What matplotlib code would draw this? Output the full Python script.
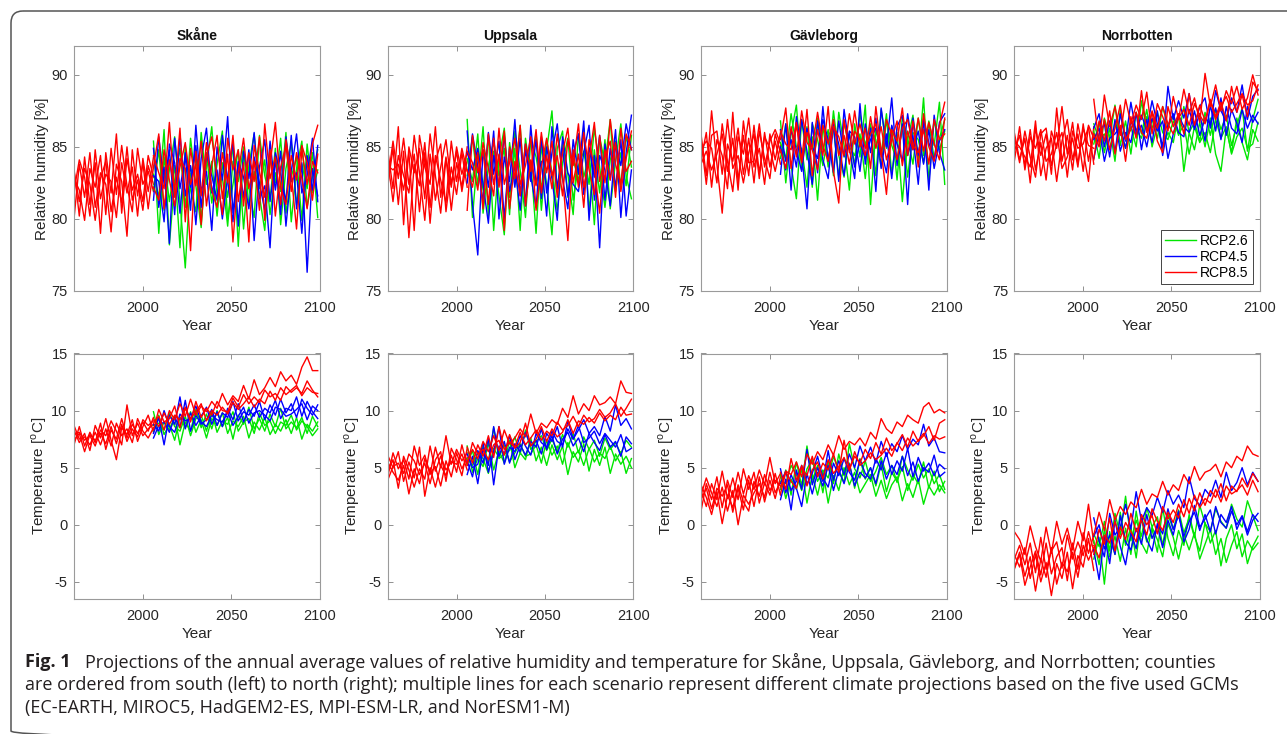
import numpy as np
import matplotlib
matplotlib.use('Agg')
import matplotlib.pyplot as plt
from matplotlib.patches import FancyBboxPatch
from matplotlib.lines import Line2D

plt.rcParams['font.family'] = ['Liberation Sans', 'DejaVu Sans']
plt.rcParams['mathtext.fontset'] = 'custom'
plt.rcParams['mathtext.rm'] = 'Liberation Sans'
plt.rcParams['axes.unicode_minus'] = False

# years (historical 1961-2006, scenarios 2006-2099), read every third year
HIST_YEARS = np.arange(1961, 2007, 3)
FUT_YEARS = np.arange(2006, 2100, 3)

COUNTIES = ['Skåne', 'Uppsala', 'Gävleborg', 'Norrbotten']
SCENARIOS = ['RCP2.6', 'RCP4.5', 'RCP8.5']
SCEN_COLORS = ['#00e600', '#0000ff', '#ff0000']

# ---------------- relative humidity [%] ----------------
SKANE_RH_HIST = [
    [83.5, 80.2, 84.3, 81.0, 83.9, 79.0, 84.6, 81.8, 85.9, 80.4, 84.2, 82.0, 83.1, 81.2, 84.4, 82.9],
    [80.0, 83.8, 81.5, 84.6, 80.8, 83.2, 82.4, 79.1, 83.8, 82.6, 78.8, 84.8, 81.6, 83.9, 80.7, 83.6],
    [82.8, 82.0, 79.9, 83.5, 82.2, 84.4, 80.3, 84.9, 81.7, 85.1, 82.3, 80.5, 84.9, 82.4, 83.3, 81.9],
    [81.9, 84.1, 82.9, 80.2, 84.8, 81.4, 83.1, 82.6, 80.1, 83.9, 81.8, 83.6, 80.2, 84.2, 81.9, 84.3],
    [83.3, 81.2, 83.5, 82.4, 79.9, 82.8, 84.0, 80.5, 82.9, 81.1, 85.0, 81.3, 82.7, 80.6, 83.7, 82.4],
]
SKANE_RH_26 = [
    [85.4, 79.0, 84.3, 81.2, 83.7, 78.0, 85.1, 82.0, 80.5, 86.0, 82.4, 84.0, 80.2, 83.9, 81.5, 85.2, 78.1, 84.6, 82.2, 80.1, 85.8, 83.0, 81.4, 84.9, 79.6, 83.5, 85.3, 81.0, 83.8, 82.1, 84.6, 80.1],
    [82.0, 84.8, 80.6, 83.4, 85.7, 81.2, 76.6, 83.1, 84.5, 80.0, 83.6, 86.4, 81.7, 82.9, 79.5, 84.0, 82.6, 85.0, 80.9, 83.3, 81.6, 79.2, 84.2, 82.5, 85.6, 80.4, 82.9, 84.3, 79.9, 85.2, 81.8, 83.4],
    [83.1, 81.5, 86.2, 78.2, 82.7, 84.9, 80.8, 85.6, 82.3, 79.4, 84.6, 81.1, 83.8, 86.1, 80.0, 82.4, 84.8, 79.3, 83.7, 85.9, 82.1, 84.1, 80.3, 83.2, 81.9, 86.0, 79.8, 83.5, 85.4, 80.8, 82.9, 84.8],
]
SKANE_RH_45 = [
    [84.9, 80.8, 83.6, 78.3, 85.6, 82.1, 84.3, 80.6, 86.5, 81.9, 83.3, 79.2, 85.0, 82.7, 87.1, 80.4, 83.9, 81.5, 84.8, 78.5, 83.6, 85.5, 81.2, 84.1, 80.3, 85.7, 82.6, 83.2, 79.0, 84.4, 82.0, 85.1],
    [81.3, 85.7, 82.4, 84.8, 80.3, 85.9, 81.6, 83.7, 79.6, 84.2, 86.3, 81.8, 83.4, 80.0, 82.9, 85.3, 79.5, 84.7, 82.8, 86.0, 81.4, 82.3, 78.0, 84.6, 83.1, 81.2, 85.8, 80.7, 83.9, 76.3, 83.5, 81.6],
    [83.0, 82.6, 79.8, 85.2, 83.9, 80.4, 84.6, 82.2, 85.1, 80.8, 84.5, 83.0, 81.3, 85.8, 82.6, 79.8, 84.0, 82.9, 80.7, 84.3, 82.5, 80.6, 85.4, 82.0, 84.7, 79.5, 83.3, 85.9, 81.8, 83.0, 85.6, 81.2],
]
SKANE_RH_85 = [
    [83.6, 85.9, 80.7, 84.1, 82.0, 86.3, 79.8, 84.9, 82.3, 85.4, 80.9, 83.7, 85.8, 81.4, 84.5, 78.4, 83.2, 85.6, 82.1, 84.0, 80.6, 86.6, 82.8, 84.3, 81.0, 85.5, 83.1, 79.3, 84.8, 82.4, 85.2, 86.5],
    [82.2, 81.3, 84.8, 82.7, 80.9, 84.2, 83.5, 77.8, 84.7, 81.6, 85.3, 82.0, 80.8, 84.6, 82.5, 85.8, 81.2, 83.9, 78.4, 85.1, 83.3, 81.5, 84.8, 80.2, 83.6, 85.1, 81.9, 84.6, 82.8, 80.7, 84.0, 83.2],
    [84.4, 83.2, 82.1, 86.7, 81.5, 83.6, 85.3, 82.4, 83.8, 79.6, 84.4, 85.7, 82.9, 80.3, 85.6, 83.4, 84.8, 80.9, 84.6, 82.6, 85.7, 79.9, 83.8, 86.7, 82.2, 81.0, 84.4, 82.7, 85.1, 83.9, 81.3, 84.5],
]

UPPSALA_RH_HIST = [
    [84.8, 82.1, 86.4, 79.6, 85.0, 83.2, 84.9, 81.4, 85.9, 83.0, 80.4, 84.2, 82.2, 85.0, 83.1, 84.6],
    [82.3, 84.9, 81.0, 84.7, 78.7, 83.8, 82.3, 85.3, 80.8, 84.4, 82.7, 81.1, 85.4, 82.6, 84.9, 83.3],
    [83.7, 83.4, 83.8, 82.0, 84.6, 79.2, 85.8, 83.6, 82.4, 86.4, 81.5, 84.3, 80.6, 83.9, 82.2, 85.0],
    [82.6, 85.4, 82.8, 85.6, 82.4, 84.5, 80.5, 84.6, 79.7, 84.0, 85.2, 80.5, 83.6, 81.7, 84.6, 82.2],
    [84.1, 81.2, 84.4, 83.0, 81.8, 85.8, 83.2, 79.9, 84.5, 81.3, 83.6, 85.5, 82.4, 84.7, 81.9, 84.1],
]
UPPSALA_RH_26 = [
    [86.9, 80.1, 84.6, 82.0, 85.8, 79.2, 84.2, 86.3, 81.5, 84.9, 79.2, 85.6, 83.0, 86.0, 80.6, 84.8, 87.5, 81.9, 85.2, 83.1, 80.3, 85.9, 82.9, 84.4, 79.6, 85.7, 83.8, 86.9, 81.9, 84.6, 82.3, 85.8],
    [83.0, 85.7, 82.3, 86.4, 80.2, 84.7, 81.6, 78.9, 85.3, 82.6, 86.5, 81.1, 84.0, 79.0, 85.1, 82.4, 78.9, 84.9, 86.1, 81.5, 84.2, 82.6, 86.3, 80.5, 84.8, 81.8, 85.5, 80.7, 84.0, 86.6, 83.0, 81.4],
    [84.2, 82.6, 85.9, 80.4, 83.7, 85.4, 83.0, 84.9, 80.3, 86.1, 83.4, 80.1, 85.5, 84.3, 82.1, 85.5, 83.2, 80.6, 83.9, 85.6, 81.3, 83.7, 84.7, 82.4, 86.3, 83.6, 80.8, 84.1, 85.4, 82.3, 85.8, 83.6],
]
UPPSALA_RH_45 = [
    [86.1, 81.0, 77.5, 84.8, 82.2, 86.1, 80.0, 84.3, 82.6, 86.9, 81.6, 85.2, 83.0, 80.8, 85.7, 81.8, 84.6, 86.6, 82.8, 80.7, 85.5, 83.1, 86.8, 79.9, 84.4, 78.0, 85.2, 82.7, 86.2, 80.1, 84.6, 87.2],
    [82.5, 85.9, 83.6, 81.2, 86.0, 83.1, 85.4, 80.0, 84.9, 82.2, 85.6, 80.9, 86.5, 82.4, 84.0, 80.2, 86.4, 82.1, 84.9, 81.6, 84.5, 85.9, 81.7, 85.0, 82.9, 85.8, 81.3, 84.9, 82.2, 85.5, 80.2, 83.4],
    [84.6, 83.4, 84.9, 82.4, 79.7, 84.4, 82.3, 85.8, 81.9, 83.7, 80.6, 84.8, 82.6, 85.5, 81.4, 85.0, 82.8, 79.9, 85.7, 83.2, 82.4, 81.9, 84.6, 86.5, 81.3, 84.4, 83.4, 80.9, 85.1, 83.7, 86.6, 84.8],
]
UPPSALA_RH_85 = [
    [80.6, 85.8, 83.2, 84.8, 81.0, 85.6, 82.2, 86.1, 80.7, 84.0, 81.6, 85.2, 83.3, 86.2, 81.8, 84.4, 82.1, 85.9, 83.0, 78.5, 84.8, 82.2, 86.0, 83.4, 81.7, 85.8, 82.5, 86.9, 83.8, 82.4, 85.9, 84.8],
    [83.4, 82.2, 84.6, 80.7, 85.9, 82.4, 84.5, 79.2, 85.0, 82.8, 86.5, 80.9, 84.1, 82.3, 86.0, 83.2, 85.4, 81.5, 84.6, 86.3, 82.5, 84.5, 80.8, 85.5, 83.5, 80.4, 84.8, 82.7, 85.3, 81.9, 84.2, 86.1],
    [84.7, 83.9, 82.0, 85.3, 83.5, 81.6, 86.3, 82.4, 83.9, 85.6, 82.4, 83.7, 85.7, 80.6, 83.6, 85.6, 83.0, 84.4, 81.6, 85.5, 83.7, 86.6, 82.2, 84.1, 86.7, 82.6, 84.3, 85.4, 81.5, 86.3, 83.3, 84.0],
]

GAVLEBORG_RH_HIST = [
    [85.9, 83.0, 87.5, 83.8, 80.4, 85.2, 84.0, 86.3, 83.1, 85.6, 82.5, 86.1, 84.2, 82.8, 85.9, 84.6],
    [84.1, 86.0, 82.2, 85.5, 84.4, 82.1, 87.4, 82.6, 85.8, 83.0, 86.5, 83.2, 85.7, 84.9, 83.3, 85.1],
    [84.8, 85.4, 84.9, 82.5, 86.6, 84.0, 81.9, 85.7, 84.5, 87.0, 83.6, 84.9, 82.4, 85.9, 84.1, 86.0],
    [85.5, 82.4, 85.8, 86.1, 83.1, 86.9, 83.5, 84.4, 82.5, 84.6, 85.9, 82.8, 86.0, 83.6, 85.4, 83.8],
    [83.8, 84.7, 83.4, 84.5, 85.9, 83.3, 85.6, 82.0, 86.8, 83.9, 84.0, 86.6, 83.6, 85.4, 86.2, 85.2],
]
GAVLEBORG_RH_26 = [
    [86.8, 82.5, 85.9, 87.9, 83.4, 86.4, 82.2, 87.0, 84.8, 86.2, 83.0, 87.4, 85.1, 82.0, 86.6, 84.3, 87.9, 81.0, 86.2, 84.5, 87.3, 83.1, 86.0, 81.2, 85.5, 87.2, 84.0, 88.4, 82.6, 86.9, 84.8, 86.1],
    [84.2, 86.6, 83.7, 81.4, 86.9, 84.1, 85.7, 81.3, 86.5, 83.6, 87.5, 84.4, 82.9, 86.0, 83.7, 87.3, 85.1, 86.6, 83.0, 87.6, 84.9, 86.4, 82.7, 87.1, 85.6, 83.8, 87.0, 84.4, 86.8, 85.1, 88.1, 82.4],
    [85.3, 84.2, 87.3, 85.0, 84.9, 82.2, 86.6, 85.5, 83.7, 85.8, 86.3, 82.9, 86.7, 85.0, 84.4, 85.9, 82.8, 86.4, 85.5, 83.6, 86.8, 85.1, 84.0, 86.5, 82.9, 86.0, 85.5, 83.9, 86.7, 84.2, 85.6, 86.9],
]
GAVLEBORG_RH_45 = [
    [83.1, 86.6, 82.0, 87.1, 84.6, 80.7, 86.7, 83.2, 87.8, 84.0, 86.5, 82.6, 87.6, 84.9, 82.8, 88.0, 83.8, 86.3, 81.9, 87.7, 85.0, 88.4, 83.7, 86.6, 81.0, 87.0, 84.4, 86.8, 82.0, 87.2, 84.6, 83.4],
    [86.2, 84.0, 85.5, 83.6, 86.9, 84.7, 82.4, 86.8, 84.1, 82.8, 86.6, 85.2, 83.0, 86.1, 85.7, 83.3, 86.6, 84.6, 87.0, 83.5, 85.9, 82.8, 86.4, 87.2, 84.4, 85.8, 82.4, 86.9, 85.3, 84.1, 86.7, 87.3],
    [85.0, 83.4, 86.2, 84.8, 83.3, 86.3, 85.0, 84.2, 86.9, 85.5, 83.2, 86.8, 84.3, 85.9, 83.6, 85.3, 84.2, 85.5, 86.3, 84.8, 83.2, 86.5, 85.2, 84.0, 87.3, 84.8, 86.1, 83.8, 86.2, 83.5, 85.4, 86.2],
]
GAVLEBORG_RH_85 = [
    [85.5, 87.7, 83.5, 86.6, 84.0, 87.6, 83.0, 86.2, 84.4, 87.8, 83.3, 81.1, 86.9, 84.6, 87.5, 85.0, 86.3, 83.5, 87.8, 84.7, 81.7, 86.2, 85.4, 87.7, 84.4, 86.8, 83.6, 87.3, 85.0, 84.0, 86.5, 88.1],
    [84.8, 83.5, 86.4, 84.3, 87.5, 85.3, 84.8, 83.4, 86.5, 85.2, 86.9, 84.4, 85.8, 83.8, 86.1, 85.5, 84.4, 87.1, 84.9, 86.4, 84.1, 85.5, 86.8, 83.7, 86.1, 84.8, 87.0, 84.7, 86.7, 85.2, 84.1, 87.0],
    [86.1, 85.2, 84.8, 86.7, 83.9, 86.0, 84.9, 87.4, 85.1, 84.0, 86.4, 85.7, 84.4, 87.3, 85.2, 86.6, 84.9, 85.9, 86.6, 84.3, 86.9, 85.8, 84.1, 86.3, 86.9, 85.1, 84.6, 86.2, 83.8, 86.9, 85.5, 85.9],
]

NORRBOTTEN_RH_HIST = [
    [86.0, 84.1, 85.6, 82.5, 86.3, 84.4, 85.9, 83.1, 87.7, 84.0, 85.8, 83.4, 86.6, 84.7, 82.6, 86.4],
    [84.7, 85.8, 83.7, 86.2, 83.4, 85.3, 82.7, 86.1, 84.9, 87.8, 84.5, 86.7, 83.8, 86.3, 85.1, 84.9],
    [85.4, 85.0, 84.3, 83.6, 86.8, 83.0, 84.9, 85.6, 82.6, 85.4, 86.9, 84.1, 85.9, 83.3, 86.5, 85.6],
    [84.0, 86.4, 83.4, 85.7, 84.9, 86.2, 84.0, 84.5, 86.0, 83.5, 84.3, 85.6, 83.6, 86.6, 84.0, 86.2],
    [85.7, 83.9, 86.1, 84.3, 82.9, 85.9, 86.3, 83.7, 85.2, 86.0, 82.9, 86.1, 84.9, 85.2, 86.4, 83.8],
]
NORRBOTTEN_RH_26 = [
    [86.1, 84.2, 87.0, 85.6, 87.9, 85.1, 86.8, 84.5, 87.4, 85.9, 87.6, 85.0, 86.5, 84.9, 86.0, 85.3, 87.3, 83.3, 86.0, 84.8, 86.7, 85.0, 87.0, 84.5, 83.3, 86.3, 84.6, 87.0, 85.3, 84.1, 86.2, 85.4],
    [85.2, 86.7, 84.6, 86.3, 84.0, 87.6, 85.5, 86.4, 85.0, 88.2, 86.1, 86.9, 85.6, 87.8, 86.4, 87.1, 85.8, 87.8, 86.0, 86.7, 85.4, 87.4, 85.8, 87.6, 86.2, 87.2, 85.1, 86.5, 87.7, 84.7, 86.9, 88.3],
    [86.6, 85.5, 85.9, 84.8, 86.7, 86.0, 84.9, 86.9, 86.2, 85.6, 87.1, 86.3, 87.4, 86.0, 85.5, 86.8, 85.9, 86.5, 84.5, 86.4, 85.3, 86.0, 84.6, 86.9, 85.6, 86.4, 84.5, 85.7, 86.3, 84.9, 85.2, 86.7],
]
NORRBOTTEN_RH_45 = [
    [86.3, 87.3, 85.0, 86.8, 84.6, 87.3, 85.4, 88.1, 86.0, 87.2, 86.2, 88.2, 86.6, 85.0, 89.2, 86.9, 88.2, 87.0, 88.7, 86.4, 87.8, 88.4, 86.3, 88.9, 87.5, 86.8, 88.4, 87.4, 89.3, 86.9, 88.5, 89.0],
    [84.2, 85.9, 86.6, 84.3, 86.9, 84.7, 86.0, 85.3, 87.4, 84.8, 86.9, 85.3, 87.5, 84.4, 86.5, 87.3, 86.0, 85.7, 87.6, 86.2, 87.3, 85.4, 87.9, 86.1, 88.4, 85.8, 87.6, 86.6, 85.3, 87.8, 86.7, 87.4],
    [85.5, 86.3, 84.0, 85.6, 85.9, 86.4, 84.9, 86.8, 85.8, 86.5, 85.0, 87.0, 86.1, 86.8, 84.2, 85.9, 87.2, 86.4, 86.0, 87.5, 85.8, 87.0, 86.6, 87.7, 85.5, 87.8, 86.3, 85.9, 87.6, 86.3, 87.2, 86.6],
]
NORRBOTTEN_RH_85 = [
    [88.3, 85.2, 88.6, 86.4, 87.8, 85.8, 88.3, 86.6, 87.9, 86.9, 88.8, 85.9, 88.0, 87.1, 86.1, 88.5, 86.9, 89.0, 87.3, 88.4, 86.7, 90.1, 87.8, 89.3, 87.5, 88.9, 88.0, 89.2, 87.6, 88.4, 90.0, 88.6],
    [84.1, 86.8, 85.4, 87.5, 84.5, 86.5, 84.0, 87.1, 85.6, 88.9, 86.0, 87.4, 85.4, 84.6, 87.8, 86.4, 87.3, 85.9, 88.7, 86.5, 87.9, 86.8, 88.3, 87.1, 88.1, 86.8, 89.2, 87.4, 88.6, 87.1, 89.5, 88.9],
    [85.9, 85.0, 86.9, 84.8, 86.3, 87.9, 85.5, 86.2, 87.4, 86.0, 85.6, 87.5, 86.3, 87.8, 86.6, 85.9, 87.0, 87.6, 86.5, 88.0, 87.2, 86.6, 88.2, 86.9, 87.8, 88.5, 87.4, 88.0, 88.7, 87.9, 88.2, 89.3],
]

# ---------------- temperature [oC] ----------------
SKANE_T_HIST = [
    [7.0, 8.6, 6.9, 8.1, 7.2, 8.9, 6.6, 8.3, 7.5, 9.3, 7.6, 8.8, 8.0, 9.0, 8.2, 9.4],
    [8.3, 7.2, 8.0, 6.5, 8.7, 7.6, 9.3, 7.4, 5.7, 8.5, 7.9, 9.2, 7.3, 8.6, 9.6, 8.1],
    [7.9, 8.1, 7.4, 7.8, 6.9, 8.3, 7.8, 9.1, 8.2, 7.0, 10.5, 7.8, 8.9, 7.8, 8.4, 8.8],
    [8.7, 7.5, 7.7, 7.0, 8.1, 7.0, 8.4, 6.9, 8.9, 7.8, 8.4, 7.2, 9.3, 8.2, 7.6, 8.5],
    [7.4, 8.0, 6.4, 7.9, 7.4, 8.0, 7.1, 8.6, 7.1, 8.8, 7.3, 8.4, 7.7, 9.2, 8.7, 9.1],
]
SKANE_T_26 = [
    [8.2, 9.6, 7.9, 8.8, 7.4, 9.4, 8.5, 9.9, 8.1, 9.2, 7.6, 9.3, 8.7, 9.8, 8.0, 9.1, 8.6, 9.5, 7.6, 9.0, 8.3, 9.4, 7.9, 8.8, 8.2, 9.2, 8.0, 9.4, 7.5, 8.8, 8.2, 9.0],
    [9.9, 7.9, 9.0, 8.3, 9.5, 7.0, 9.0, 8.2, 10.1, 8.5, 9.7, 8.4, 10.0, 8.6, 9.4, 7.5, 9.6, 8.8, 10.3, 8.4, 9.3, 8.2, 9.7, 8.6, 10.2, 8.4, 9.0, 8.5, 9.4, 8.0, 9.5, 8.6],
    [8.7, 8.9, 8.3, 9.8, 8.6, 8.2, 9.5, 7.8, 9.3, 9.6, 8.2, 9.9, 8.1, 9.1, 8.8, 9.9, 8.2, 9.0, 9.3, 8.0, 9.8, 8.7, 9.1, 8.0, 9.0, 8.7, 9.6, 8.3, 9.1, 8.6, 7.8, 8.4],
]
SKANE_T_45 = [
    [8.0, 9.4, 7.0, 9.6, 8.8, 11.2, 8.4, 9.8, 8.7, 9.5, 10.3, 8.8, 9.9, 8.6, 10.2, 9.2, 10.6, 9.0, 10.1, 9.5, 10.8, 9.2, 10.5, 9.6, 11.0, 9.8, 10.6, 9.4, 11.0, 10.2, 9.6, 10.5],
    [7.6, 8.7, 9.0, 8.1, 9.4, 8.5, 10.9, 8.2, 9.6, 8.8, 9.2, 10.1, 8.7, 9.8, 9.4, 10.8, 9.1, 9.9, 9.6, 10.5, 9.4, 10.2, 9.8, 10.9, 9.3, 10.2, 10.0, 11.2, 9.5, 10.8, 9.9, 9.3],
    [8.8, 8.2, 10.0, 8.6, 8.1, 9.7, 9.1, 9.3, 10.4, 9.0, 8.6, 9.6, 9.2, 9.0, 9.9, 8.7, 9.5, 10.3, 8.9, 9.8, 10.0, 9.6, 9.1, 10.3, 10.1, 9.5, 9.7, 10.1, 10.6, 9.2, 10.4, 10.0],
]
SKANE_T_85 = [
    [8.9, 9.5, 8.3, 10.0, 9.2, 10.6, 9.5, 11.0, 9.6, 10.4, 9.9, 10.8, 10.2, 11.5, 10.5, 11.3, 10.8, 12.2, 11.0, 12.7, 11.4, 12.0, 12.9, 12.1, 13.4, 12.6, 13.1, 12.3, 13.8, 14.7, 13.5, 13.5],
    [8.3, 10.1, 9.0, 9.3, 10.4, 8.5, 10.2, 9.3, 9.9, 10.6, 9.1, 10.0, 9.6, 10.3, 9.7, 10.7, 10.1, 10.6, 11.2, 10.3, 11.0, 10.6, 11.7, 10.9, 12.0, 11.4, 11.8, 12.2, 11.3, 12.0, 11.6, 11.5],
    [9.3, 8.6, 9.8, 8.8, 9.6, 9.2, 10.3, 9.0, 10.8, 9.4, 10.2, 9.6, 10.8, 10.0, 9.9, 11.1, 10.3, 11.4, 10.6, 11.2, 10.7, 11.8, 11.2, 11.5, 10.9, 12.1, 11.6, 12.0, 11.5, 12.6, 11.8, 11.2],
]

UPPSALA_T_HIST = [
    [4.2, 6.3, 4.9, 5.7, 4.0, 6.9, 5.2, 6.1, 4.4, 6.8, 5.0, 7.8, 5.3, 6.6, 5.6, 6.3],
    [5.5, 4.6, 3.9, 5.2, 2.7, 4.9, 3.6, 5.8, 4.5, 5.1, 3.4, 5.6, 4.2, 6.3, 4.9, 5.9],
    [6.1, 5.0, 6.4, 3.8, 5.5, 4.1, 6.8, 2.5, 5.0, 3.3, 5.2, 4.3, 6.1, 4.6, 7.0, 5.2],
    [4.6, 5.7, 3.2, 6.0, 4.8, 3.3, 4.9, 4.0, 6.9, 4.7, 6.0, 4.8, 5.5, 5.3, 6.2, 4.8],
    [3.9, 5.1, 5.4, 4.5, 6.2, 5.6, 4.4, 5.4, 3.6, 5.7, 6.4, 3.8, 6.7, 5.7, 4.3, 6.7],
]
UPPSALA_T_26 = [
    [6.9, 4.6, 5.8, 5.1, 7.2, 4.8, 6.5, 5.4, 7.4, 5.0, 6.3, 5.7, 7.6, 5.6, 6.8, 5.2, 7.0, 5.7, 6.9, 4.4, 6.4, 5.5, 7.1, 4.7, 6.6, 5.2, 6.8, 4.5, 6.2, 5.3, 6.0, 5.0],
    [5.3, 6.5, 4.4, 6.9, 5.5, 8.5, 5.8, 6.2, 6.5, 7.7, 6.2, 8.3, 6.6, 7.3, 7.8, 6.5, 7.5, 6.4, 7.9, 6.8, 8.0, 6.3, 7.7, 6.6, 7.4, 6.0, 7.6, 6.6, 7.2, 6.2, 7.4, 6.8],
    [5.8, 5.2, 6.3, 5.8, 4.5, 6.7, 5.9, 7.0, 5.5, 6.3, 7.1, 6.0, 6.2, 7.0, 5.4, 7.4, 6.1, 6.9, 5.3, 7.2, 5.9, 6.5, 5.2, 6.7, 5.5, 6.3, 5.8, 6.9, 5.6, 6.4, 4.5, 5.8],
]
UPPSALA_T_45 = [
    [4.4, 6.0, 3.6, 6.7, 5.2, 8.6, 6.0, 7.3, 5.4, 7.1, 6.4, 8.1, 6.9, 7.4, 6.2, 8.0, 7.3, 8.6, 6.8, 9.1, 7.5, 8.3, 9.2, 8.0, 8.6, 7.8, 9.5, 8.2, 10.5, 8.7, 9.3, 8.4],
    [5.6, 4.2, 6.5, 5.4, 7.6, 3.5, 6.9, 6.2, 7.8, 5.7, 7.0, 6.1, 7.3, 6.8, 8.4, 6.6, 7.8, 6.2, 7.5, 8.1, 6.9, 7.6, 6.4, 8.0, 7.2, 6.5, 7.9, 6.8, 7.3, 6.0, 7.7, 7.1],
    [6.2, 5.0, 5.3, 7.2, 4.6, 6.4, 8.6, 5.3, 6.8, 6.4, 7.8, 6.9, 6.1, 8.0, 7.2, 6.8, 8.2, 7.3, 7.0, 8.4, 7.5, 8.7, 7.2, 7.6, 8.2, 7.1, 8.0, 7.4, 6.8, 7.9, 6.4, 6.7],
]
UPPSALA_T_85 = [
    [5.5, 6.6, 5.8, 7.3, 6.4, 7.8, 6.5, 8.3, 7.1, 7.6, 8.4, 7.7, 9.7, 8.0, 8.9, 8.5, 9.2, 8.8, 10.2, 9.4, 11.3, 9.7, 10.6, 10.0, 11.3, 10.5, 10.7, 11.2, 10.6, 12.6, 11.6, 11.5],
    [6.8, 5.4, 7.0, 6.0, 7.8, 5.9, 8.6, 6.6, 7.2, 6.8, 8.1, 7.0, 7.6, 8.3, 7.4, 8.2, 7.8, 9.0, 8.3, 8.7, 9.5, 8.6, 9.6, 9.0, 9.3, 10.1, 9.4, 9.8, 10.6, 9.5, 10.2, 11.0],
    [5.2, 7.2, 6.2, 6.6, 5.7, 7.0, 7.4, 6.1, 7.9, 6.7, 7.2, 8.9, 6.9, 7.5, 8.6, 7.3, 8.4, 7.7, 8.1, 9.2, 8.0, 9.1, 8.8, 9.4, 8.9, 9.8, 9.1, 9.6, 9.2, 10.3, 9.6, 9.7],
]

GAVLEBORG_T_HIST = [
    [1.2, 3.6, 2.2, 4.2, 1.5, 3.9, 2.4, 4.6, 2.7, 4.3, 3.1, 4.8, 3.5, 5.9, 3.6, 4.5],
    [3.5, 2.4, 0.9, 2.9, 0.1, 2.6, 1.5, 3.5, 2.0, 1.2, 3.8, 2.5, 4.4, 3.0, 3.9, 3.4],
    [2.6, 4.1, 2.8, 1.6, 3.3, 1.2, 3.0, 0.0, 2.6, 1.8, 2.8, 3.6, 2.4, 4.6, 2.8, 3.8],
    [3.0, 1.6, 3.6, 2.2, 4.7, 2.3, 4.1, 2.2, 4.9, 3.1, 4.6, 1.9, 3.7, 2.6, 4.5, 2.6],
    [2.2, 3.2, 1.4, 3.2, 2.5, 3.5, 1.1, 3.2, 1.3, 3.9, 1.6, 4.2, 2.0, 3.9, 2.3, 4.2],
]
GAVLEBORG_T_26 = [
    [3.1, 4.8, 2.6, 5.5, 3.4, 6.9, 3.9, 5.2, 2.8, 5.6, 3.6, 6.2, 4.3, 5.4, 3.2, 5.8, 4.0, 5.0, 3.4, 5.3, 2.9, 4.6, 3.8, 5.1, 3.0, 4.4, 3.6, 5.5, 3.2, 4.7, 2.9, 3.8],
    [4.4, 2.3, 4.0, 3.1, 4.9, 1.9, 4.4, 2.6, 4.7, 1.9, 4.3, 3.0, 5.0, 3.5, 4.6, 2.8, 3.6, 4.4, 2.5, 3.9, 2.3, 3.5, 4.2, 2.1, 3.6, 2.4, 4.0, 1.8, 3.4, 2.6, 3.5, 2.8],
    [3.8, 3.6, 5.2, 4.4, 3.0, 4.9, 5.7, 3.8, 4.8, 4.1, 6.0, 4.7, 3.7, 7.1, 4.9, 4.1, 5.6, 3.8, 4.7, 5.9, 4.4, 5.2, 3.7, 6.0, 4.8, 3.9, 5.3, 4.1, 4.9, 3.6, 4.4, 3.1],
]
GAVLEBORG_T_45 = [
    [2.2, 4.0, 1.3, 4.8, 3.1, 6.6, 3.5, 5.0, 3.8, 6.5, 3.9, 5.6, 4.4, 6.2, 5.0, 6.9, 5.6, 6.8, 5.4, 7.3, 6.0, 7.1, 6.4, 7.8, 6.6, 7.5, 7.0, 8.8, 6.9, 7.6, 6.4, 6.3],
    [4.9, 2.8, 4.4, 3.2, 1.6, 4.5, 2.7, 4.6, 3.4, 5.2, 3.0, 4.8, 3.6, 5.3, 3.4, 4.6, 4.1, 5.0, 3.6, 5.6, 4.0, 5.2, 4.4, 6.0, 4.3, 5.5, 3.8, 5.0, 4.6, 6.1, 4.2, 4.6],
    [3.6, 4.7, 3.0, 3.8, 5.2, 3.6, 4.5, 6.0, 4.1, 3.3, 5.4, 4.3, 5.8, 4.6, 3.9, 5.7, 4.5, 4.0, 5.8, 4.8, 6.3, 4.4, 5.6, 4.7, 6.7, 4.2, 5.9, 4.7, 5.4, 4.3, 5.3, 4.9],
]
GAVLEBORG_T_85 = [
    [3.3, 4.7, 4.4, 5.5, 4.2, 6.2, 5.3, 6.4, 5.7, 7.0, 6.1, 7.8, 6.6, 7.3, 7.0, 7.6, 6.9, 8.1, 7.5, 9.3, 8.4, 8.0, 9.0, 8.6, 9.6, 9.2, 8.9, 10.3, 10.7, 9.8, 10.1, 9.8],
    [4.6, 3.1, 5.8, 3.9, 5.0, 4.3, 6.0, 4.2, 5.4, 4.8, 6.2, 4.6, 7.4, 4.9, 6.0, 5.4, 6.6, 5.8, 7.2, 6.2, 7.6, 6.5, 7.1, 7.9, 6.8, 8.2, 7.3, 7.8, 8.6, 7.4, 8.9, 9.2],
    [2.7, 4.6, 3.8, 3.2, 5.2, 3.4, 4.8, 5.5, 4.0, 5.7, 4.5, 5.1, 5.9, 4.7, 6.4, 5.2, 5.6, 6.3, 5.7, 6.1, 6.7, 6.0, 7.2, 6.5, 7.6, 6.9, 7.4, 8.0, 7.1, 7.8, 7.5, 7.7],
]

NORRBOTTEN_T_HIST = [
    [-0.6, -1.3, -2.6, -0.1, -1.9, -3.2, -0.2, -2.5, 0.3, -1.7, -0.3, -2.2, 0.3, -1.4, 1.8, -1.6],
    [-3.8, -2.4, -4.5, -2.8, -5.8, -3.0, -4.6, -2.0, -5.2, -3.3, -4.1, -2.4, -4.6, -1.8, -3.1, -2.0],
    [-2.6, -3.7, -2.0, -4.7, -2.6, -5.0, -3.3, -6.2, -3.4, -4.7, -2.4, -5.6, -2.7, -3.7, -1.2, -4.0],
    [-3.0, -1.8, -3.5, -1.6, -4.2, -1.1, -3.9, -2.3, -1.5, -3.8, -0.9, -3.0, -1.5, -2.7, -0.6, -2.3],
    [-3.9, -2.6, -5.3, -3.7, -2.3, -4.4, -1.6, -4.3, -2.8, -2.0, -4.9, -1.6, -3.9, -0.7, -2.5, -0.9],
]
NORRBOTTEN_T_26 = [
    [-3.0, -1.1, -5.2, -0.6, -2.6, 1.1, -1.8, -0.2, -2.9, 0.6, -1.5, -0.4, -2.4, 1.5, -1.2, -2.7, -0.5, -1.8, 0.9, -1.0, -2.3, 0.2, -1.6, -0.5, -3.6, -1.2, 0.0, -2.1, -0.8, -3.4, -1.9, -1.0],
    [-1.4, -3.5, -0.4, -2.8, -1.0, -3.2, -0.3, -2.6, 1.2, -1.6, -2.5, -0.2, -1.3, -2.8, 0.1, -1.1, -3.0, -0.9, -2.2, -0.7, -3.0, -1.7, -0.4, -2.6, -1.2, -3.3, -1.8, -0.6, -2.8, -1.4, -2.2, -1.6],
    [-0.8, -1.9, 0.3, -2.3, 1.0, -0.9, 2.5, -1.4, 0.4, -1.0, 1.5, -0.2, 0.7, -1.8, 0.9, -0.4, 1.3, -0.7, 0.6, -1.1, 1.7, 0.1, -0.6, 1.4, 0.3, -0.3, 1.8, 0.5, -0.2, 2.1, 0.8, -0.5],
]
NORRBOTTEN_T_45 = [
    [-2.2, -4.8, -1.0, -3.4, 0.4, -1.9, -3.5, -0.7, -2.1, 0.6, -1.3, -2.3, 0.1, -0.8, 1.4, -0.4, 0.8, -1.0, 0.3, 1.1, -0.5, 0.9, -0.6, 1.6, 0.2, -0.3, 1.2, 0.0, 0.8, -0.6, 0.9, 0.3],
    [0.6, -1.4, -2.8, 1.0, -0.9, -0.2, 1.8, -0.4, 2.9, 0.3, 1.5, 0.8, 2.4, 1.1, 3.0, 1.8, 2.6, 1.5, 4.2, 2.3, 1.7, 3.1, 2.5, 3.9, 2.4, 4.6, 3.0, 3.7, 5.0, 3.5, 4.6, 3.8],
    [-1.0, 0.0, -2.1, -0.9, -2.6, 0.8, -1.5, -2.2, -0.3, -1.7, 0.9, -1.2, -0.1, -2.0, 0.4, -0.9, 1.2, -1.5, -0.4, 1.7, -0.2, 0.5, 1.3, -0.8, 0.9, 0.2, 1.6, -0.4, 0.7, -0.9, 0.4, 1.0],
]
NORRBOTTEN_T_85 = [
    [-0.9, 1.1, -0.5, 2.2, 0.4, 1.6, 0.9, 2.0, 1.5, 3.1, 1.8, 2.7, 2.4, 3.8, 2.6, 3.5, 3.0, 4.4, 3.6, 5.1, 3.9, 4.6, 4.8, 5.3, 4.2, 5.5, 5.0, 6.0, 5.6, 6.9, 6.2, 6.0],
    [-2.6, -0.4, -1.7, 0.6, -2.3, -0.2, -1.3, 1.0, -0.6, 0.4, -0.9, 1.4, 0.3, -0.5, 1.1, 0.2, 1.8, 0.7, 2.3, 1.2, 2.8, 1.7, 3.0, 2.4, 3.6, 2.1, 3.4, 2.9, 4.1, 3.3, 4.5, 3.8],
    [-1.8, -2.9, -0.9, -1.6, 0.3, -1.2, 0.2, -0.6, -1.5, 0.9, 0.0, 0.8, -0.8, 1.6, 0.5, 1.3, 0.6, 2.2, 1.0, 2.6, 1.5, 2.3, 1.9, 3.1, 2.0, 3.4, 2.7, 3.0, 3.5, 2.6, 3.9, 2.9],
]

RH_PANELS = [
    (SKANE_RH_HIST, [SKANE_RH_26, SKANE_RH_45, SKANE_RH_85]),
    (UPPSALA_RH_HIST, [UPPSALA_RH_26, UPPSALA_RH_45, UPPSALA_RH_85]),
    (GAVLEBORG_RH_HIST, [GAVLEBORG_RH_26, GAVLEBORG_RH_45, GAVLEBORG_RH_85]),
    (NORRBOTTEN_RH_HIST, [NORRBOTTEN_RH_26, NORRBOTTEN_RH_45, NORRBOTTEN_RH_85]),
]
T_PANELS = [
    (SKANE_T_HIST, [SKANE_T_26, SKANE_T_45, SKANE_T_85]),
    (UPPSALA_T_HIST, [UPPSALA_T_26, UPPSALA_T_45, UPPSALA_T_85]),
    (GAVLEBORG_T_HIST, [GAVLEBORG_T_26, GAVLEBORG_T_45, GAVLEBORG_T_85]),
    (NORRBOTTEN_T_HIST, [NORRBOTTEN_T_26, NORRBOTTEN_T_45, NORRBOTTEN_T_85]),
]

W, H = 1287, 734
fig = plt.figure(figsize=(W / 100, H / 100), dpi=100)
fig.patch.set_facecolor('white')

# frame + caption drawn in pixel coordinates
bg = fig.add_axes([0, 0, 1, 1])
bg.set_xlim(0, W)
bg.set_ylim(H, 0)
bg.axis('off')
bg.add_patch(FancyBboxPatch((11, 11), 1320, 732, boxstyle='round,pad=0,rounding_size=12',
                            fill=False, edgecolor='#555555', linewidth=1.1))
cap_font = ['Open Sans', 'DejaVu Sans']
cap_size = 13
cap_col = '#231f20'
bg.text(25, 662, 'Fig. 1', fontsize=cap_size, fontweight='bold', family=cap_font,
        va='center', ha='left', color=cap_col)
bg.text(85, 662, 'Projections of the annual average values of relative humidity and temperature '
        'for Skåne, Uppsala, Gävleborg, and Norrbotten; counties',
        fontsize=cap_size, family=cap_font, va='center', ha='left', color=cap_col)
bg.text(25, 685, 'are ordered from south (left) to north (right); multiple lines for each scenario '
        'represent different climate projections based on the five used GCMs',
        fontsize=cap_size, family=cap_font, va='center', ha='left', color=cap_col)
bg.text(25, 708, '(EC-EARTH, MIROC5, HadGEM2-ES, MPI-ESM-LR, and NorESM1-M)',
        fontsize=cap_size, family=cap_font, va='center', ha='left', color=cap_col)

lefts = [74, 387.7, 701, 1014.3]
ax_w = 245.5
rows = [(46, 291), (353.5, 599)]

TXT = '#262626'
FRAME = '#9a9a9a'


def style_axes(ax):
    for sp in ax.spines.values():
        sp.set_color(FRAME)
        sp.set_linewidth(0.8)
    ax.tick_params(direction='in', top=True, right=True, length=3.5, width=0.6,
                   color='#7f7f7f', labelsize=10.5, labelcolor=TXT)
    ax.tick_params(axis='x', pad=7)
    ax.tick_params(axis='y', pad=4.5)
    ax.set_xlim(1961, 2100)
    ax.set_xticks([2000, 2050, 2100])
    ax.set_xlabel('Year', fontsize=11, color=TXT, labelpad=3)


for row, (panels, ylim, yticks, ylabel) in enumerate([
        (RH_PANELS, (75, 92), [75, 80, 85, 90], 'Relative humidity [%]'),
        (T_PANELS, (-6.5, 15), [-5, 0, 5, 10, 15], r'Temperature [$^{\mathrm{o}}$C]')]):
    top, bottom = rows[row]
    for col, (hist, scen) in enumerate(panels):
        ax = fig.add_axes([lefts[col] / W, 1 - bottom / H, ax_w / W, (bottom - top) / H])
        for line in hist:
            ax.plot(HIST_YEARS, line, color=SCEN_COLORS[2], lw=1.0)
        for lines, c in zip(scen, SCEN_COLORS):
            for line in lines:
                ax.plot(FUT_YEARS, line, color=c, lw=1.0)
        style_axes(ax)
        ax.set_ylim(*ylim)
        ax.set_yticks(yticks)
        ax.set_ylabel(ylabel, fontsize=11, color=TXT, labelpad=2)
        if row == 0:
            ax.set_title(COUNTIES[col], fontsize=10, fontweight='bold', color='#111111', pad=4)
        if row == 0 and col == 3:
            handles = [Line2D([], [], color=c, lw=1.0) for c in SCEN_COLORS]
            leg = ax.legend(handles, SCENARIOS, loc='lower right', fontsize=10, frameon=True,
                            fancybox=False, edgecolor='#262626', framealpha=1,
                            handlelength=2.2, labelspacing=0.15, borderpad=0.3,
                            handletextpad=0.3, borderaxespad=0.5)
            leg.get_frame().set_linewidth(0.6)

fig.savefig('out.png', dpi=100)
